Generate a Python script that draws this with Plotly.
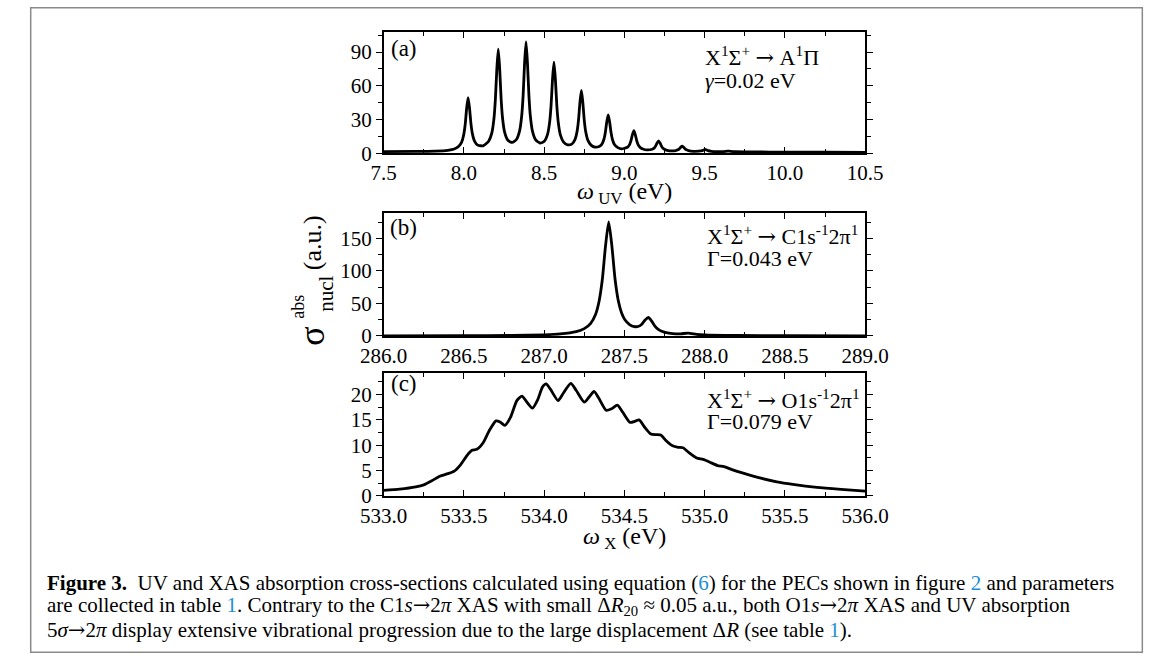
import plotly.graph_objects as go

W, H = 1174, 672
SERIF = "Liberation Serif, Times New Roman, serif"

# ---------------- data ----------------
uv_energy = [7.50, 7.70, 7.82, 7.90, 7.94, 7.966, 7.986, 7.999, 8.008, 8.017, 8.026, 8.035, 8.044, 8.053, 8.066,
             8.086, 8.12, 8.154, 8.174, 8.187, 8.196, 8.205, 8.214, 8.223, 8.232, 8.241, 8.254, 8.274, 8.30,
             8.327, 8.347, 8.36, 8.369, 8.378, 8.387, 8.396, 8.405, 8.414, 8.427, 8.447, 8.474, 8.501, 8.521,
             8.534, 8.543, 8.552, 8.561, 8.570, 8.579, 8.588, 8.601, 8.621, 8.646, 8.672, 8.692, 8.705, 8.714,
             8.723, 8.732, 8.741, 8.750, 8.759, 8.772, 8.792, 8.815, 8.839, 8.859, 8.872, 8.881, 8.890, 8.899,
             8.908, 8.917, 8.926, 8.939, 8.959, 8.982, 9.019, 9.032, 9.041, 9.050, 9.059, 9.068, 9.077, 9.086,
             9.099, 9.119, 9.14, 9.173, 9.186, 9.195, 9.204, 9.213, 9.222, 9.231, 9.240, 9.253, 9.273, 9.29,
             9.32, 9.333, 9.342, 9.351, 9.36, 9.369, 9.378, 9.387, 9.40, 9.43, 9.463, 9.485, 9.494, 9.503,
             9.512, 9.521, 9.543, 9.575, 9.61, 9.635, 9.647, 9.66, 9.69, 9.80, 10.0, 10.25, 10.5]
uv_sigma = [1.5, 1.6, 1.9, 2.6, 3.7, 5.9, 9.9, 16.6, 25.6, 39.8, 49.5, 40.1, 26.1, 17.2, 10.8,
            7.2, 6.6, 10.7, 18.1, 30.6, 47.8, 74.6, 92.5, 74.7, 48.0, 30.9, 18.5, 11.5, 9.6,
            12.2, 19.9, 33.1, 51.4, 80.2, 99.0, 80.2, 51.4, 33.0, 19.7, 11.9, 9.1, 10.6, 16.7,
            27.4, 42.3, 65.6, 81.0, 65.6, 42.2, 27.2, 16.3, 9.9, 7.5, 8.1, 12.1, 19.3, 29.4,
            45.2, 56.0, 45.1, 29.2, 19.0, 11.6, 7.2, 5.5, 5.7, 7.9, 12.2, 18.3, 27.7, 34.0,
            27.7, 18.2, 12.0, 7.5, 5.0, 3.9, 5.3, 7.7, 11.2, 16.5, 20.0, 16.4, 11.0, 7.4,
            5.0, 3.5, 2.9, 3.5, 4.7, 6.5, 9.2, 11.0, 9.1, 6.3, 4.4, 3.2, 2.4, 2.1,
            2.4, 3.0, 3.9, 5.3, 6.3, 5.3, 3.9, 3.0, 2.3, 1.7, 1.8, 2.3, 2.9, 3.3,
            2.9, 2.3, 1.65, 1.4, 1.35, 1.7, 1.9, 1.7, 1.3, 1.1, 1.0, 0.85, 0.7]

c1s_energy = [286.0, 286.5, 286.8, 287.0, 287.1, 287.2, 287.25, 287.29, 287.32, 287.342, 287.362, 287.382,
              287.402, 287.422, 287.442, 287.462, 287.482, 287.502, 287.532, 287.562, 287.585, 287.605,
              287.629, 287.649, 287.669, 287.689, 287.709, 287.729, 287.76, 287.8, 287.85, 287.898, 287.95,
              288.0, 288.2, 288.5, 289.0]
c1s_sigma = [0.15, 0.34, 0.76, 1.7, 3.0, 6.6, 11.2, 19.4, 33.0, 53.0, 86.0, 137.6,
             175.5, 138.3, 86.8, 54.0, 35.6, 25.2, 17.4, 14.3, 14.5, 17.2,
             24.5, 28.4, 23.0, 15.3, 10.3, 7.4, 5.0, 3.65, 3.25, 4.2, 2.3,
             1.4, 0.6, 0.3, 0.15]

o1s_energy = [533.0, 533.1, 533.2, 533.25, 533.3, 533.35, 533.4, 533.44, 533.48, 533.52, 533.55, 533.58,
              533.62, 533.66, 533.70, 533.725, 533.755, 533.79, 533.83, 533.862, 533.89, 533.927, 533.96,
              533.99, 534.012, 534.04, 534.087, 534.12, 534.166, 534.2, 534.25, 534.28, 534.311, 534.34,
              534.386, 534.42, 534.456, 534.49, 534.535, 534.565, 534.592, 534.625, 534.665, 534.70, 534.727,
              534.76, 534.80, 534.835, 534.865, 534.90, 534.95, 534.99, 535.03, 535.08, 535.12, 535.17,
              535.25, 535.35, 535.45, 535.55, 535.7, 535.85, 536.0]
o1s_sigma = [1.1, 1.35, 1.8, 2.2, 3.0, 3.9, 4.4, 4.9, 6.2, 8.0, 9.0, 9.2,
             10.5, 13.0, 14.8, 14.6, 13.9, 15.5, 18.8, 19.7, 18.6, 17.3, 19.0,
             21.5, 22.1, 21.0, 18.8, 20.3, 22.2, 20.8, 18.5, 19.5, 20.6, 19.3,
             16.9, 17.2, 17.9, 16.5, 14.5, 14.7, 15.0, 13.6, 12.2, 12.1, 12.0,
             10.9, 9.9, 9.6, 9.5, 8.6, 7.5, 7.2, 6.7, 6.0, 5.8, 5.2,
             4.4, 3.5, 2.8, 2.3, 1.7, 1.3, 0.95]

x_ranges = [[7.5, 10.5], [286.0, 289.0], [533.0, 536.0]]
y_ranges = [[0, 107.5], [0, 189], [0, 24.2]]
y_major = [30, 50, 5]
y_minor = [15, 25, 2.5]
panel_labels = ["(a)", "(b)", "(c)"]
ARROW = "<span style='font-family:DejaVu Serif'>→</span>"
transition_labels = ["X<sup>1</sup>Σ<sup>+</sup> " + ARROW + " A<sup>1</sup>Π",
                     "X<sup>1</sup>Σ<sup>+</sup> " + ARROW + " C1s<sup>-1</sup>2π<sup>1</sup>",
                     "X<sup>1</sup>Σ<sup>+</sup> " + ARROW + " O1s<sup>-1</sup>2π<sup>1</sup>"]
width_labels = ["<i>γ</i>=0.02 eV", "Γ=0.043 eV", "Γ=0.079 eV"]

# ---------------- layout helpers (pixel -> paper) ----------------
def px(x):
    return x / W

def py(y):
    return 1 - y / H

plot_left, plot_right = 375, 877
panels_px = [(33, 156), (217, 342), (380, 505)]

fig = go.Figure()
series = [(uv_energy, uv_sigma), (c1s_energy, c1s_sigma), (o1s_energy, o1s_sigma)]
for i, (xs, ys) in enumerate(series):
    sfx = "" if i == 0 else str(i + 1)
    fig.add_trace(go.Scatter(x=xs, y=ys, mode="lines",
                             line=dict(color="black", width=2.8, shape="spline", smoothing=0.6),
                             xaxis="x" + sfx, yaxis="y" + sfx, showlegend=False, hoverinfo="skip"))

layout = dict(width=W, height=H, margin=dict(l=0, r=0, t=0, b=0),
              paper_bgcolor="white", plot_bgcolor="white", showlegend=False,
              font=dict(family=SERIF, color="black"))

for i in range(3):
    sfx = "" if i == 0 else str(i + 1)
    top, bot = panels_px[i]
    layout["xaxis" + sfx] = dict(
        domain=[px(plot_left), px(plot_right)], anchor="y" + sfx, range=x_ranges[i],
        dtick=0.5, tick0=x_ranges[i][0], tickformat=".1f",
        ticks="inside", ticklen=6, tickwidth=1.3, tickcolor="black",
        minor=dict(dtick=0.25, ticks="inside", ticklen=4, tickwidth=1.2, tickcolor="black"),
        showline=True, linecolor="black", linewidth=1.5, mirror="ticks",
        showgrid=False, zeroline=False, tickfont=dict(family=SERIF, size=21, color="black"),
        fixedrange=True)
    layout["yaxis" + sfx] = dict(
        domain=[py(bot), py(top)], anchor="x" + sfx, range=y_ranges[i],
        dtick=y_major[i], tick0=0,
        ticks="outside", ticklen=6, tickwidth=1.3, tickcolor="black",
        minor=dict(dtick=y_minor[i], ticks="outside", ticklen=4, tickwidth=1.2, tickcolor="black"),
        showline=True, linecolor="black", linewidth=1.5, mirror="ticks",
        showgrid=False, zeroline=False, tickfont=dict(family=SERIF, size=21, color="black"),
        fixedrange=True)

fig.update_layout(**layout)

ann = []
label_pos = [(396, 49), (396, 232), (396, 390)]
trans_pos = [(708, 57), (710, 239), (710, 406)]
width_pos = [(708, 82), (710, 263), (710, 429)]
for i in range(3):
    ann.append(dict(text=panel_labels[i], x=px(label_pos[i][0]), y=py(label_pos[i][1]),
                    xref="paper", yref="paper", xanchor="center", yanchor="middle",
                    showarrow=False, font=dict(family=SERIF, size=23)))
    ann.append(dict(text=transition_labels[i], x=px(trans_pos[i][0]), y=py(trans_pos[i][1]),
                    xref="paper", yref="paper", xanchor="left", yanchor="middle",
                    showarrow=False, font=dict(family=SERIF, size=22)))
    ann.append(dict(text=width_labels[i], x=px(width_pos[i][0]), y=py(width_pos[i][1]),
                    xref="paper", yref="paper", xanchor="left", yanchor="middle",
                    showarrow=False, font=dict(family=SERIF, size=22)))

# x-axis titles
ann.append(dict(text="<i>ω</i><sub> UV</sub> (eV)", x=px(626), y=py(196), xref="paper", yref="paper",
                xanchor="center", yanchor="middle", showarrow=False, font=dict(family=SERIF, size=24)))
ann.append(dict(text="<i>ω</i><sub> X</sub> (eV)", x=px(626), y=py(548), xref="paper", yref="paper",
                xanchor="center", yanchor="middle", showarrow=False, font=dict(family=SERIF, size=24)))

# y-axis title, pieces stacked like the original
ann.append(dict(text="(a.u.)", x=px(301), y=py(247), xref="paper", yref="paper", textangle=-90,
                xanchor="center", yanchor="middle", showarrow=False, font=dict(family=SERIF, size=26)))
ann.append(dict(text="σ", x=px(300), y=py(342), xref="paper", yref="paper", textangle=-90,
                xanchor="center", yanchor="middle", showarrow=False, font=dict(family=SERIF, size=36)))
ann.append(dict(text="nucl", x=px(315), y=py(299), xref="paper", yref="paper", textangle=-90,
                xanchor="center", yanchor="middle", showarrow=False, font=dict(family=SERIF, size=21)))
ann.append(dict(text="abs", x=px(286), y=py(312), xref="paper", yref="paper", textangle=-90,
                xanchor="center", yanchor="middle", showarrow=False, font=dict(family=SERIF, size=18)))

# caption
BLUE = "#1d8ed6"
CAR = "<span style='font-family:DejaVu Serif'>→</span>"
cap1 = ("<b>Figure 3.</b>\u00a0\u00a0UV and XAS absorption cross-sections calculated using equation "
        "(<span style='color:%s'>6</span>) for the PECs shown in figure <span style='color:%s'>2</span> "
        "and parameters" % (BLUE, BLUE))
cap2 = ("are collected in table <span style='color:%s'>1</span>. Contrary to the C1<i>s</i>" % BLUE
        + CAR + "2<i>π</i> XAS with small Δ<i>R</i><sub>20</sub> ≈ 0.05 a.u., both O1<i>s</i>"
        + CAR + "2<i>π</i> XAS and UV absorption")
cap3 = ("5<i>σ</i>" + CAR + "2<i>π</i> display extensive vibrational progression due to the large displacement "
        "Δ<i>R</i> (see table <span style='color:%s'>1</span>)." % BLUE)
for txt, yy in [(cap1, 594), (cap2, 617), (cap3, 641)]:
    ann.append(dict(text=txt, x=px(22), y=py(yy), xref="paper", yref="paper",
                    xanchor="left", yanchor="middle", showarrow=False,
                    font=dict(family=SERIF, size=21, color="black")))

fig.update_layout(annotations=ann)

# outer frame
fig.add_shape(type="rect", xref="paper", yref="paper", x0=px(7), x1=px(1166), y0=py(664), y1=py(8),
              line=dict(color="#8a8a8a", width=1.5), fillcolor="rgba(0,0,0,0)", layer="below")

fig.write_html("out.html", config={"displayModeBar": False},
               post_script="document.documentElement.style.overflow='hidden';"
                           "document.body.style.margin='0';document.body.style.overflow='hidden';")
